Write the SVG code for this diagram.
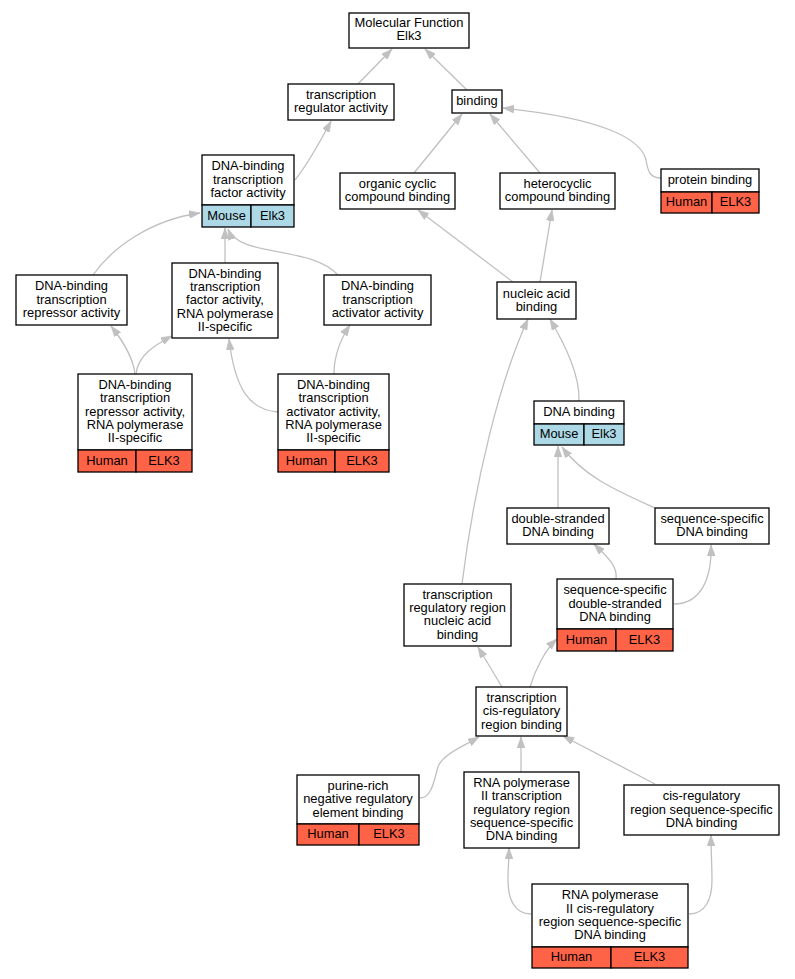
<svg xmlns="http://www.w3.org/2000/svg" width="795" height="979" viewBox="0 0 795 979">
<defs>
<style>
.b{fill:#fff;stroke:#000;stroke-width:1.3}
.h{fill:#ff6347;stroke:#000;stroke-width:1.3}
.m{fill:#add8e6;stroke:#000;stroke-width:1.3}
text{font-family:"Liberation Sans",Arial,sans-serif;font-size:12.9px;fill:#000;text-anchor:middle}
.e path{fill:none;stroke:#c0c0c0;stroke-width:1.3;marker-end:url(#a)}
</style>
<marker id="a" markerUnits="userSpaceOnUse" viewBox="0 0 11 8" markerWidth="11" markerHeight="8" refX="11" refY="4" orient="auto">
<path d="M0,0 L11,4 L0,8 z" fill="#c0c0c0" stroke="#c0c0c0" stroke-width="0.5"/>
</marker>
</defs>
<rect width="795" height="979" fill="#fff"/>
<g class="e" id="connectors">
<path d="M358,84 L392,49"/>
<path d="M467,90 L425,49"/>
<path d="M295,180 C307,165 320,142 331,121"/>
<path d="M414,173 L462,114"/>
<path d="M540,173 L490,114"/>
<path d="M661,178 C650,178 648,172 646,160 C641,138 600,118 503,108"/>
<path d="M93,275 C112,248 150,220 200,213"/>
<path d="M225,263 L225,228"/>
<path d="M338,275 C310,245 240,258 228,229"/>
<path d="M513,282 L418,210"/>
<path d="M540,282 L552,210"/>
<path d="M135,374 C133,356 122,340 111,326"/>
<path d="M136,374 C138,355 155,345 172,336"/>
<path d="M278,412 C250,410 235,390 229,339"/>
<path d="M334,374 C334,355 340,340 350,325"/>
<path d="M579,401 C580,375 565,345 550,319"/>
<path d="M462,584 C475,480 500,380 528,319"/>
<path d="M558,508 L558,446"/>
<path d="M655,508 C620,492 585,478 562,447"/>
<path d="M616,579 C618,565 605,555 594,544"/>
<path d="M674,604 C700,604 712,580 711,545"/>
<path d="M502,687 L478,647"/>
<path d="M530,687 C535,670 545,650 557,639"/>
<path d="M420,798 C432,798 434,780 438,767 C442,755 460,748 479,737"/>
<path d="M521,772 L521,737"/>
<path d="M655,784 L563,736"/>
<path d="M531,914 C515,914 508,900 508,880 C508,868 509,860 509,848"/>
<path d="M689,914 C705,914 712,900 712,880 C712,868 711,850 711,835"/>
</g>
<g id="n1"><rect class="b" x="349" y="13" width="120" height="35"/><text x="409" y="26.9">Molecular Function</text><text x="409" y="40.2">Elk3</text></g>
<g id="n2"><rect class="b" x="288" y="84" width="106" height="36"/><text x="341" y="99.1">transcription</text><text x="341" y="112.4">regulator activity</text></g>
<g id="n3"><rect class="b" x="452" y="90" width="50" height="23"/><text x="477" y="105.2">binding</text></g>
<g id="n4"><rect class="b" x="202" y="155" width="92" height="50"/><rect class="m" x="202" y="205" width="49" height="22"/><rect class="m" x="251" y="205" width="43" height="22"/><text x="248" y="170.4">DNA-binding</text><text x="248" y="183.7">transcription</text><text x="248" y="197">factor activity</text><text x="226.5" y="219.5">Mouse</text><text x="272.5" y="219.5">Elk3</text></g>
<g id="n5"><rect class="b" x="340" y="173" width="115" height="36"/><text x="397.5" y="188.1">organic cyclic</text><text x="397.5" y="201.4">compound binding</text></g>
<g id="n6"><rect class="b" x="500" y="173" width="115" height="36"/><text x="557.5" y="188.1">heterocyclic</text><text x="557.5" y="201.4">compound binding</text></g>
<g id="n7"><rect class="b" x="661" y="169" width="98" height="23"/><rect class="h" x="661" y="192" width="51" height="21"/><rect class="h" x="712" y="192" width="47" height="21"/><text x="710" y="184.2">protein binding</text><text x="686.5" y="206">Human</text><text x="735.5" y="206">ELK3</text></g>
<g id="n8"><rect class="b" x="497" y="282" width="79" height="37"/><text x="536.5" y="297.6">nucleic acid</text><text x="536.5" y="310.9">binding</text></g>
<g id="n9"><rect class="b" x="534" y="401" width="90" height="23"/><rect class="m" x="534" y="424" width="50" height="21"/><rect class="m" x="584" y="424" width="40" height="21"/><text x="579" y="416.2">DNA binding</text><text x="559" y="438">Mouse</text><text x="604" y="438">Elk3</text></g>
<g id="n10"><rect class="b" x="16" y="275" width="111" height="50"/><text x="71.5" y="290.4">DNA-binding</text><text x="71.5" y="303.7">transcription</text><text x="71.5" y="317">repressor activity</text></g>
<g id="n11"><rect class="b" x="172" y="263" width="106" height="75"/><text x="225" y="277.6">DNA-binding</text><text x="225" y="290.9">transcription</text><text x="225" y="304.2">factor activity,</text><text x="225" y="317.5">RNA polymerase</text><text x="225" y="330.8">II-specific</text></g>
<g id="n12"><rect class="b" x="324" y="275" width="107" height="50"/><text x="377.5" y="290.4">DNA-binding</text><text x="377.5" y="303.7">transcription</text><text x="377.5" y="317">activator activity</text></g>
<g id="n13"><rect class="b" x="78" y="374" width="114" height="76"/><rect class="h" x="78" y="450" width="58" height="22"/><rect class="h" x="136" y="450" width="56" height="22"/><text x="135" y="389.1">DNA-binding</text><text x="135" y="402.4">transcription</text><text x="135" y="415.7">repressor activity,</text><text x="135" y="429">RNA polymerase</text><text x="135" y="442.3">II-specific</text><text x="107" y="464.5">Human</text><text x="164" y="464.5">ELK3</text></g>
<g id="n14"><rect class="b" x="278" y="374" width="111" height="76"/><rect class="h" x="278" y="450" width="57" height="22"/><rect class="h" x="335" y="450" width="54" height="22"/><text x="333.5" y="389.1">DNA-binding</text><text x="333.5" y="402.4">transcription</text><text x="333.5" y="415.7">activator activity,</text><text x="333.5" y="429">RNA polymerase</text><text x="333.5" y="442.3">II-specific</text><text x="306.5" y="464.5">Human</text><text x="362" y="464.5">ELK3</text></g>
<g id="n15"><rect class="b" x="507" y="508" width="102" height="36"/><text x="558" y="523.1">double-stranded</text><text x="558" y="536.4">DNA binding</text></g>
<g id="n16"><rect class="b" x="655" y="508" width="114" height="36"/><text x="712" y="523.1">sequence-specific</text><text x="712" y="536.4">DNA binding</text></g>
<g id="n17"><rect class="b" x="404" y="584" width="107" height="62"/><text x="457.5" y="598.7">transcription</text><text x="457.5" y="612">regulatory region</text><text x="457.5" y="625.3">nucleic acid</text><text x="457.5" y="638.6">binding</text></g>
<g id="n18"><rect class="b" x="557" y="579" width="116" height="50"/><rect class="h" x="557" y="629" width="59" height="22"/><rect class="h" x="616" y="629" width="57" height="22"/><text x="615" y="594.4">sequence-specific</text><text x="615" y="607.7">double-stranded</text><text x="615" y="621">DNA binding</text><text x="586.5" y="643.5">Human</text><text x="644.5" y="643.5">ELK3</text></g>
<g id="n19"><rect class="b" x="476" y="687" width="91" height="49"/><text x="521.5" y="701.9">transcription</text><text x="521.5" y="715.2">cis-regulatory</text><text x="521.5" y="728.5">region binding</text></g>
<g id="n20"><rect class="b" x="297" y="775" width="122" height="49"/><rect class="h" x="297" y="824" width="62" height="21"/><rect class="h" x="359" y="824" width="60" height="21"/><text x="358" y="789.9">purine-rich</text><text x="358" y="803.2">negative regulatory</text><text x="358" y="816.5">element binding</text><text x="328" y="838">Human</text><text x="389" y="838">ELK3</text></g>
<g id="n21"><rect class="b" x="464" y="772" width="115" height="76"/><text x="521.5" y="787.1">RNA polymerase</text><text x="521.5" y="800.4">II transcription</text><text x="521.5" y="813.7">regulatory region</text><text x="521.5" y="827">sequence-specific</text><text x="521.5" y="840.3">DNA binding</text></g>
<g id="n22"><rect class="b" x="624" y="785" width="155" height="50"/><text x="701.5" y="800.4">cis-regulatory</text><text x="701.5" y="813.7">region sequence-specific</text><text x="701.5" y="827">DNA binding</text></g>
<g id="n23"><rect class="b" x="532" y="884" width="156" height="63"/><rect class="h" x="532" y="947" width="79" height="21"/><rect class="h" x="611" y="947" width="77" height="21"/><text x="610" y="899.2">RNA polymerase</text><text x="610" y="912.5">II cis-regulatory</text><text x="610" y="925.8">region sequence-specific</text><text x="610" y="939.1">DNA binding</text><text x="571.5" y="961">Human</text><text x="649.5" y="961">ELK3</text></g>
</svg>
